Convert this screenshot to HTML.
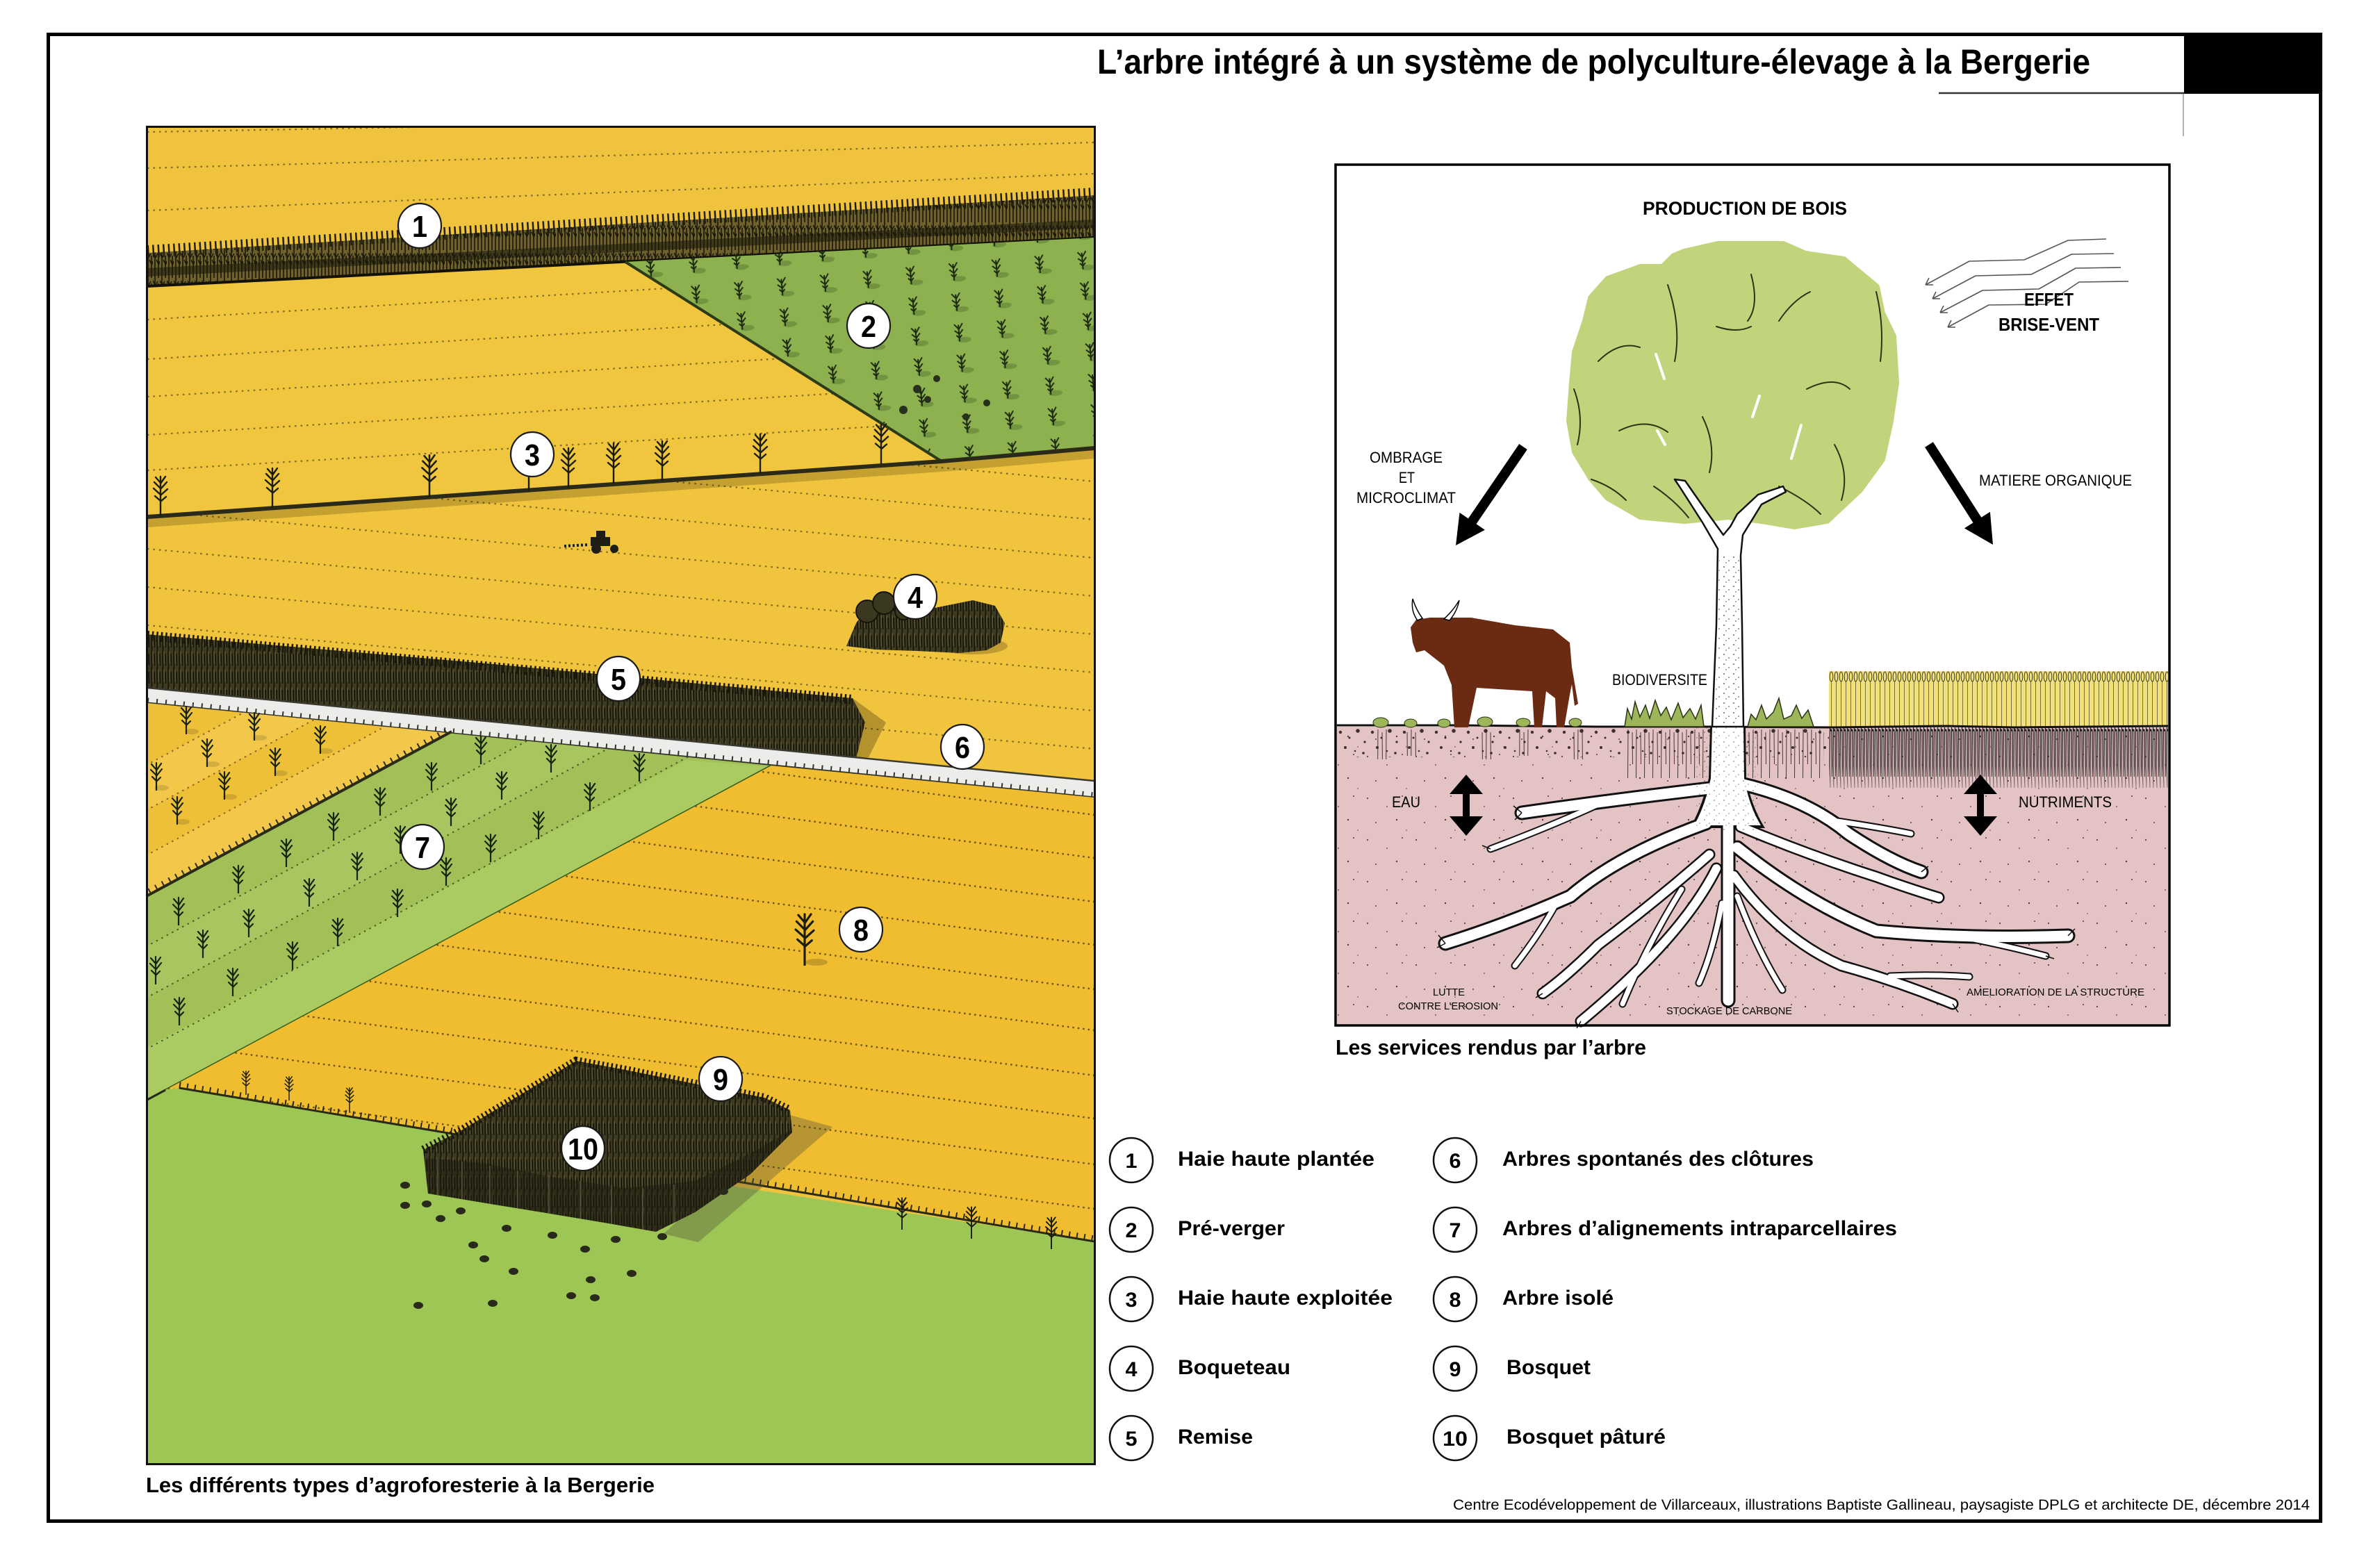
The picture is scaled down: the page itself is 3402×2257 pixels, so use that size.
<!DOCTYPE html>
<html><head><meta charset="utf-8"><title>L’arbre intégré à un système de polyculture-élevage à la Bergerie</title>
<style>html,body{margin:0;padding:0;background:#fff}svg{display:block}</style></head>
<body>
<svg xmlns="http://www.w3.org/2000/svg" width="3402" height="2257" viewBox="0 0 3402 2257" font-family="'Liberation Sans', sans-serif">
<defs>
  <symbol id="tr" viewBox="0 0 24 44"><path d="M12 44 L12 4 M12 14 L5 6 M12 15 L19 5 M12 22 L4 14 M12 23 L20 13 M12 30 L6 24 M12 31 L18 25" fill="none" stroke="#17230d" stroke-width="2.2" stroke-linecap="round"/></symbol>
  <symbol id="tb" viewBox="0 0 30 60"><path d="M15 60 L15 3 M15 12 L8 4 M15 13 L22 3 M15 20 L6 11 M15 21 L24 11 M15 29 L5 20 M15 30 L25 21 M15 38 L7 31 M15 39 L23 32" fill="none" stroke="#1a1c0c" stroke-width="2.4" stroke-linecap="round"/></symbol>
  <pattern id="pRem" width="8" height="26" patternUnits="userSpaceOnUse"><rect width="8" height="26" fill="#3f3b20"/><path d="M2 0 L2.5 26 M6 5 L6.5 22" stroke="#121208" stroke-width="1.6"/><path d="M4 2 L4.3 20" stroke="#6d6538" stroke-width="0.9"/></pattern>
  <pattern id="pHedge" width="10" height="40" patternUnits="userSpaceOnUse"><rect width="10" height="40" fill="#6e612b"/><path d="M3 0 L3 40 M3 10 L0 4 M3 12 L7 5 M8 8 L8 40 M8 20 L5 14 M8 22 L10 16" stroke="#1a180c" stroke-width="1.6"/></pattern>
  <pattern id="pOrch" width="62" height="44" patternUnits="userSpaceOnUse" patternTransform="rotate(-5)"><ellipse cx="38" cy="36" rx="10" ry="4" fill="#3e5a22" opacity=".35"/><path d="M31 38 L31 14 M31 20 L25 13 M31 21 L37 12 M31 27 L25 22 M31 28 L37 21 M31 33 L27 29 M31 33 L35 29" stroke="#1c2a10" stroke-width="2" fill="none"/></pattern>
  <pattern id="pWheat" width="7" height="82" patternUnits="userSpaceOnUse" x="2632" y="965"><path d="M3.5 16 L3.5 82" stroke="#77703e" stroke-width="1"/><ellipse cx="3.5" cy="9" rx="2.3" ry="7" fill="none" stroke="#3a3a2a" stroke-width="1"/></pattern>
  <pattern id="pWroots" width="5" height="95" patternUnits="userSpaceOnUse" x="2632" y="1046"><path d="M1.5 0 L1 55 L2 88 M4 6 L4.3 72" stroke="#1d1a1a" stroke-width="1.25" fill="none"/><circle cx="3" cy="5" r="1.6" fill="#1d1a1a"/></pattern>
  <pattern id="pSoil" width="46" height="40" patternUnits="userSpaceOnUse" x="1924" y="1048"><g fill="#1e1616"><circle cx="5" cy="6" r="2.2"/><circle cx="18" cy="14" r="1.5"/><circle cx="30" cy="4" r="2.8"/><circle cx="40" cy="20" r="1.6"/><circle cx="12" cy="28" r="2"/><circle cx="26" cy="33" r="1.3"/><circle cx="38" cy="36" r="1.8"/></g></pattern>
  <pattern id="pSpeck" width="70" height="60" patternUnits="userSpaceOnUse"><g fill="#5a3c40"><circle cx="8" cy="9" r="1.1"/><circle cx="36" cy="21" r="0.9"/><circle cx="58" cy="6" r="1"/><circle cx="20" cy="44" r="1"/><circle cx="50" cy="40" r="1.2"/><circle cx="64" cy="55" r="0.8"/></g></pattern>
  <pattern id="pDots" width="14" height="14" patternUnits="userSpaceOnUse"><g fill="#333"><circle cx="3" cy="4" r="0.9"/><circle cx="10" cy="9" r="0.8"/><circle cx="6" cy="12" r="0.7"/></g></pattern>
  <pattern id="pGroots" width="12" height="75" patternUnits="userSpaceOnUse"><path d="M3 0 L2.5 70 M9 4 L9.5 50" stroke="#2a2020" stroke-width="1" fill="none"/></pattern>
  <linearGradient id="gFade" x1="0" y1="0" x2="0" y2="1"><stop offset="0" stop-color="#fff"/><stop offset=".6" stop-color="#fff" stop-opacity=".9"/><stop offset="1" stop-color="#fff" stop-opacity=".25"/></linearGradient>
  <mask id="mFade" maskUnits="userSpaceOnUse" x="2632" y="1046" width="488" height="95"><rect x="2632" y="1046" width="488" height="95" fill="url(#gFade)"/></mask>
  <clipPath id="clipL"><rect x="212" y="183" width="1363" height="1924"/></clipPath>
  <clipPath id="clipBet"><polygon points="212,412 1575,342 1575,645 1355,664 212,744"/></clipPath>
  <clipPath id="clipMid"><polygon points="212,744 1355,664 1575,645 1575,1125 212,990"/></clipPath>
  <clipPath id="clipA"><polygon points="212,1012 643,1055 212,1291"/></clipPath>
  <clipPath id="clipB"><polygon points="643,1055 1110,1102 212,1583 212,1291"/></clipPath>
  <clipPath id="clipC"><polygon points="1110,1102 1575,1148 1575,1787 258,1566 238,1569"/></clipPath>
  <clipPath id="clipBos"><polygon points="609,1655 664,1627 747,1577 829,1527 900,1540 1000,1560 1100,1580 1137,1598 1140,1630 1080,1690 1000,1745 944,1773 870,1760 780,1745 700,1732 616,1718"/></clipPath>
  <path id="r1" d="M2460 1135 Q2330 1150 2190 1170"/>
  <path id="r1b" d="M2300 1158 Q2230 1190 2145 1222"/>
  <path id="r2" d="M2455 1185 Q2330 1230 2260 1290 Q2170 1330 2080 1358"/>
  <path id="r2b" d="M2240 1300 Q2215 1345 2180 1390"/>
  <path id="r3" d="M2460 1230 Q2380 1300 2300 1360 Q2255 1405 2220 1430"/>
  <path id="r4" d="M2470 1250 Q2420 1350 2275 1470"/>
  <path id="r5" d="M2487 1150 L2487 1440"/>
  <path id="r5b" d="M2478 1300 Q2465 1370 2445 1415"/>
  <path id="r6" d="M2505 1128 Q2600 1150 2660 1200 Q2720 1240 2765 1255"/>
  <path id="r6b" d="M2630 1180 Q2700 1190 2750 1200"/>
  <path id="r7" d="M2505 1190 Q2600 1230 2700 1262 Q2750 1280 2790 1292"/>
  <path id="r8" d="M2500 1220 Q2600 1300 2700 1340 Q2830 1352 2976 1347"/>
  <path id="r8b" d="M2840 1352 Q2890 1362 2944 1376"/>
  <path id="r9" d="M2495 1260 Q2560 1350 2650 1390 Q2730 1412 2810 1445"/>
  <path id="r9b" d="M2720 1405 Q2780 1402 2834 1406"/>
  <path id="r10" d="M2500 1290 Q2530 1370 2565 1425"/>
  <path id="r11" d="M2420 1280 Q2370 1360 2335 1445"/>
</defs>

<rect width="3402" height="2257" fill="#fff"/>

<!-- outer frame & header -->
<rect x="69.5" y="49.5" width="3270" height="2140" fill="none" stroke="#000" stroke-width="5"/>
<rect x="3143" y="47" width="199" height="88" fill="#000"/>
<line x1="2790" y1="134" x2="3143" y2="134" stroke="#333" stroke-width="2.5"/>
<line x1="3142" y1="135" x2="3142" y2="196" stroke="#999" stroke-width="1.5"/>
<text x="1579" y="106" font-size="50" font-weight="bold" textLength="1429" lengthAdjust="spacingAndGlyphs">L’arbre intégré à un système de polyculture-élevage à la Bergerie</text>

<!-- ================= LEFT ILLUSTRATION ================= -->
<g clip-path="url(#clipL)">
  <rect x="212" y="183" width="1363" height="1924" fill="#efc33e"/>
  <g stroke="#5a4a1a" stroke-width="2.2" stroke-dasharray="2.5 6" opacity=".75" fill="none">
    <line x1="212" y1="190" x2="1575" y2="165"/>
    <line x1="212" y1="242" x2="1575" y2="205"/>
    <line x1="212" y1="303" x2="1575" y2="250"/>
  </g>
  <polygon points="212,412 1575,342 1575,645 1355,664 212,744" fill="#f1c63f"/>
  <g clip-path="url(#clipBet)" stroke="#5a4a1a" stroke-width="2.2" stroke-dasharray="2.5 6" opacity=".75" fill="none">
    <line x1="212" y1="460" x2="1575" y2="378"/>
    <line x1="212" y1="517" x2="1575" y2="435"/>
    <line x1="212" y1="571" x2="1575" y2="489"/>
    <line x1="212" y1="626" x2="1575" y2="544"/>
    <line x1="212" y1="677" x2="1575" y2="595"/>
  </g>
  <polygon points="212,744 1355,664 1575,645 1575,1125 212,990" fill="#f0c43c"/>
  <g clip-path="url(#clipMid)" stroke="#5a4a1a" stroke-width="2.2" stroke-dasharray="2.5 6" opacity=".75" fill="none">
    <line x1="212" y1="570" x2="1575" y2="693"/>
    <line x1="212" y1="625" x2="1575" y2="748"/>
    <line x1="212" y1="680" x2="1575" y2="803"/>
    <line x1="212" y1="735" x2="1575" y2="858"/>
    <line x1="212" y1="790" x2="1575" y2="913"/>
    <line x1="212" y1="845" x2="1575" y2="968"/>
    <line x1="212" y1="900" x2="1575" y2="1023"/>
    <line x1="212" y1="955" x2="1575" y2="1078"/>
  </g>
  <!-- hedge 1 -->
  <polygon points="212,364 1575,281 1575,342 212,412" fill="url(#pHedge)"/>
  <line x1="212" y1="362" x2="1575" y2="279" stroke="#221f10" stroke-width="18" stroke-dasharray="2.5 5"/>
  <line x1="212" y1="392" x2="1575" y2="322" stroke="#1a180c" stroke-width="12" opacity=".55"/>
  <line x1="212" y1="412" x2="1575" y2="342" stroke="#141208" stroke-width="4"/>
  <!-- orchard -->
  <polygon points="900,377 1575,342 1575,645 1355,664" fill="#8db14f"/>
  <polygon points="900,377 1575,342 1575,645 1355,664" fill="url(#pOrch)"/>
  <g fill="#26301a"><circle cx="1320" cy="560" r="6"/><circle cx="1335" cy="575" r="5"/><circle cx="1300" cy="590" r="6"/><circle cx="1348" cy="545" r="5"/><circle cx="1390" cy="600" r="5"/><circle cx="1420" cy="580" r="5"/></g>
  <line x1="900" y1="377" x2="1355" y2="664" stroke="#2d3a18" stroke-width="4"/>
  <!-- hedge 3 -->
  <polyline points="212,752 1355,672 1575,653" fill="none" stroke="#000" stroke-width="14" opacity=".18"/>
  <polyline points="212,744 1355,664 1575,645" fill="none" stroke="#2b2a18" stroke-width="6"/>
  <use href="#tb" x="216" y="683" width="30" height="60"/>
  <use href="#tb" x="377" y="671" width="30" height="60"/>
  <use href="#tb" x="600" y="652" width="36" height="64"/>
  <use href="#tb" x="746" y="646" width="30" height="60"/>
  <use href="#tb" x="803" y="642" width="30" height="60"/>
  <use href="#tb" x="868" y="633" width="30" height="64"/>
  <use href="#tb" x="938" y="632" width="30" height="60"/>
  <use href="#tb" x="1079" y="622" width="30" height="60"/>
  <use href="#tb" x="1253" y="605" width="30" height="65"/>
  <!-- tractor -->
  <g fill="#1e1e14"><rect x="850" y="773" width="28" height="13"/><rect x="858" y="764" width="13" height="10"/><circle cx="858" cy="790" r="7"/><circle cx="884" cy="790" r="6"/></g>
  <line x1="812" y1="786" x2="848" y2="784" stroke="#1e1e14" stroke-width="4" stroke-dasharray="3 3"/>
  <!-- boqueteau 4 -->
  <ellipse cx="1400" cy="930" rx="50" ry="12" fill="#000" opacity=".2"/>
  <polygon points="1218,930 1232,897 1250,872 1275,858 1300,866 1320,880 1360,872 1400,864 1432,872 1446,897 1440,925 1420,936 1380,940 1320,937 1260,935" fill="url(#pRem)"/>
  <g fill="#3b3820" stroke="#15140a" stroke-width="2"><circle cx="1248" cy="880" r="16"/><circle cx="1272" cy="868" r="16"/><circle cx="1300" cy="880" r="12"/></g>
  <!-- remise 5 -->
  <polygon points="212,913 700,955 1227,1005 1245,1040 1232,1092 212,990" fill="url(#pRem)"/>
  <line x1="212" y1="915" x2="1227" y2="1007" stroke="#1a180c" stroke-width="14" stroke-dasharray="2.5 4"/>
  <polygon points="1227,1005 1275,1040 1250,1090 1232,1092 1245,1040" fill="#000" opacity=".25"/>
  <!-- road -->
  <polygon points="212,990 1575,1124 1575,1148 212,1012" fill="#ececea"/>
  <line x1="212" y1="990" x2="1575" y2="1124" stroke="#3a3a30" stroke-width="2.5"/>
  <line x1="212" y1="1012" x2="1575" y2="1148" stroke="#333328" stroke-width="3"/>
  <line x1="212" y1="1009" x2="1575" y2="1145" stroke="#333328" stroke-width="9" stroke-dasharray="2 11"/>
  <!-- region A -->
  <polygon points="212,1012 643,1055 212,1291" fill="#eec038"/>
  <g clip-path="url(#clipA)">
    <line x1="100" y1="1193" x2="1300" y2="545" stroke="#f3c84a" stroke-width="57"/>
    <line x1="100" y1="1323" x2="1300" y2="675" stroke="#f3c84a" stroke-width="57"/>
    <g stroke="#5a4a1a" stroke-width="2" stroke-dasharray="2.5 6" opacity=".75">
      <line x1="150" y1="1134" x2="1200" y2="567"/>
      <line x1="150" y1="1199" x2="1200" y2="632"/>
      <line x1="150" y1="1264" x2="1200" y2="697"/>
    </g>
  </g>
  <!-- region B -->
  <polygon points="643,1055 1110,1102 212,1583 212,1291" fill="#a1c058"/>
  <g clip-path="url(#clipB)">
    <line x1="100" y1="1459" x2="1300" y2="811" stroke="#a8c660" stroke-width="65"/>
    <polygon points="987,1094 1110,1104 212,1583 212,1507" fill="#aacb62"/>
    <g stroke="#2f4418" stroke-width="2" stroke-dasharray="2.5 6" opacity=".8">
      <line x1="150" y1="1395" x2="1200" y2="828"/>
      <line x1="150" y1="1469" x2="1200" y2="902"/>
      <line x1="150" y1="1543" x2="1200" y2="976"/>
    </g>
  </g>
  <line x1="1110" y1="1102" x2="212" y2="1583" stroke="#2f5a1c" stroke-width="3"/>
  <line x1="205" y1="1293" x2="650" y2="1053" stroke="#2a2a18" stroke-width="4"/>
  <line x1="205" y1="1289" x2="650" y2="1049" stroke="#2a2a18" stroke-width="10" stroke-dasharray="2 9"/>
  <g fill="#000" opacity=".13">
    <ellipse cx="276" cy="1053" rx="10" ry="4"/><ellipse cx="374" cy="1062" rx="10" ry="4"/><ellipse cx="469" cy="1081" rx="10" ry="4"/><ellipse cx="306" cy="1100" rx="10" ry="4"/><ellipse cx="404" cy="1113" rx="10" ry="4"/><ellipse cx="233" cy="1134" rx="10" ry="4"/><ellipse cx="331" cy="1147" rx="10" ry="4"/><ellipse cx="263" cy="1183" rx="10" ry="4"/>
  </g>
  <g>
    <use href="#tr" x="256" y="1013" width="24" height="44"/><use href="#tr" x="354" y="1022" width="24" height="44"/><use href="#tr" x="449" y="1041" width="24" height="44"/><use href="#tr" x="286" y="1060" width="24" height="44"/><use href="#tr" x="384" y="1073" width="24" height="44"/><use href="#tr" x="213" y="1094" width="24" height="44"/><use href="#tr" x="311" y="1107" width="24" height="44"/><use href="#tr" x="243" y="1143" width="24" height="44"/>
  </g>
  <g>
    <use href="#tr" x="680" y="1056" width="24" height="44"/><use href="#tr" x="781" y="1068" width="24" height="44"/><use href="#tr" x="908" y="1081" width="24" height="44"/>
    <use href="#tr" x="609" y="1094" width="24" height="44"/><use href="#tr" x="710" y="1107" width="24" height="44"/><use href="#tr" x="837" y="1123" width="24" height="44"/>
    <use href="#tr" x="535" y="1130" width="24" height="44"/><use href="#tr" x="637" y="1145" width="24" height="44"/><use href="#tr" x="763" y="1164" width="24" height="44"/>
    <use href="#tr" x="468" y="1166" width="24" height="44"/><use href="#tr" x="564" y="1185" width="24" height="44"/><use href="#tr" x="694" y="1197" width="24" height="44"/>
    <use href="#tr" x="400" y="1204" width="24" height="44"/><use href="#tr" x="502" y="1223" width="24" height="44"/><use href="#tr" x="630" y="1231" width="24" height="44"/>
    <use href="#tr" x="331" y="1242" width="24" height="44"/><use href="#tr" x="433" y="1261" width="24" height="44"/><use href="#tr" x="560" y="1276" width="24" height="44"/>
    <use href="#tr" x="245" y="1288" width="24" height="44"/><use href="#tr" x="346" y="1305" width="24" height="44"/><use href="#tr" x="474" y="1318" width="24" height="44"/>
    <use href="#tr" x="280" y="1335" width="24" height="44"/><use href="#tr" x="409" y="1352" width="24" height="44"/>
    <use href="#tr" x="212" y="1373" width="24" height="44"/><use href="#tr" x="323" y="1390" width="24" height="44"/><use href="#tr" x="246" y="1432" width="24" height="44"/>
  </g>
  <!-- region C -->
  <polygon points="1110,1102 1575,1148 1575,1787 258,1566 238,1569" fill="#f1bd30"/>
  <g clip-path="url(#clipC)" stroke="#4a3a12" stroke-width="2.4" stroke-dasharray="2.5 5" opacity=".8">
    <line x1="212" y1="996" x2="1575" y2="1173"/>
    <line x1="212" y1="1058" x2="1575" y2="1235"/>
    <line x1="212" y1="1121" x2="1575" y2="1298"/>
    <line x1="212" y1="1183" x2="1575" y2="1360"/>
    <line x1="212" y1="1247" x2="1575" y2="1424"/>
    <line x1="212" y1="1306" x2="1575" y2="1483"/>
    <line x1="212" y1="1371" x2="1575" y2="1548"/>
    <line x1="212" y1="1433" x2="1575" y2="1610"/>
    <line x1="212" y1="1499" x2="1575" y2="1676"/>
    <line x1="212" y1="1563" x2="1575" y2="1740"/>
  </g>
  <!-- pasture -->
  <polygon points="212,1583 238,1569 258,1566 655,1634 1045,1706 1575,1787 1575,2107 212,2107" fill="#9ec655"/>
  <line x1="258" y1="1566" x2="1575" y2="1787" stroke="#2a2a18" stroke-width="3"/>
  <line x1="258" y1="1562" x2="1575" y2="1783" stroke="#2a2a18" stroke-width="9" stroke-dasharray="2 9"/>
  <line x1="238" y1="1569" x2="212" y2="1583" stroke="#2a2a18" stroke-width="3"/>
  <use href="#tb" x="1285" y="1722" width="26" height="48"/>
  <use href="#tb" x="1385" y="1735" width="26" height="48"/>
  <use href="#tb" x="1500" y="1750" width="26" height="48"/>
  <use href="#tb" x="344" y="1540" width="20" height="36"/>
  <use href="#tb" x="406" y="1548" width="20" height="36"/>
  <use href="#tb" x="493" y="1564" width="20" height="36"/>
  <!-- bosquet -->
  <polygon points="1137,1605 1198,1622 1005,1788 955,1776" fill="#4a4a3a" opacity=".35"/>
  <polygon points="609,1655 664,1627 747,1577 829,1527 900,1540 1000,1560 1100,1580 1137,1598 1140,1630 1080,1690 1000,1745 944,1773 870,1760 780,1745 700,1732 616,1718" fill="url(#pRem)"/>
  <polyline points="609,1655 664,1627 747,1577 829,1527 900,1540 1000,1560 1100,1580 1137,1598" fill="none" stroke="#1a180c" stroke-width="12" stroke-dasharray="2.5 4"/>
  <g clip-path="url(#clipBos)">
    <polygon points="600,1665 700,1675 800,1695 900,1710 1000,1700 1080,1660 1150,1620 1150,1800 600,1800" fill="#1d1c10" opacity=".5"/>
    <g stroke="#8a8460" stroke-width="1.3" opacity=".6">
      <line x1="630" y1="1668" x2="630" y2="1720"/><line x1="665" y1="1672" x2="665" y2="1726"/><line x1="705" y1="1678" x2="705" y2="1733"/><line x1="745" y1="1685" x2="745" y2="1740"/><line x1="790" y1="1692" x2="790" y2="1748"/><line x1="835" y1="1700" x2="835" y2="1755"/><line x1="880" y1="1706" x2="880" y2="1762"/><line x1="925" y1="1710" x2="925" y2="1770"/><line x1="970" y1="1705" x2="970" y2="1760"/>
    </g>
  </g>
  <g fill="#2a2a1c">
    <ellipse cx="583" cy="1706" rx="7" ry="5"/><ellipse cx="583" cy="1735" rx="7" ry="5"/><ellipse cx="614" cy="1733" rx="7" ry="5"/><ellipse cx="663" cy="1743" rx="7" ry="5"/><ellipse cx="634" cy="1754" rx="7" ry="5"/><ellipse cx="681" cy="1792" rx="7" ry="5"/><ellipse cx="697" cy="1812" rx="7" ry="5"/><ellipse cx="729" cy="1768" rx="7" ry="5"/><ellipse cx="739" cy="1830" rx="7" ry="5"/><ellipse cx="795" cy="1778" rx="7" ry="5"/><ellipse cx="842" cy="1798" rx="7" ry="5"/><ellipse cx="886" cy="1784" rx="7" ry="5"/><ellipse cx="909" cy="1833" rx="7" ry="5"/><ellipse cx="850" cy="1842" rx="7" ry="5"/><ellipse cx="822" cy="1865" rx="7" ry="5"/><ellipse cx="856" cy="1868" rx="7" ry="5"/><ellipse cx="709" cy="1876" rx="7" ry="5"/><ellipse cx="602" cy="1879" rx="7" ry="5"/><ellipse cx="953" cy="1780" rx="7" ry="5"/><ellipse cx="1041" cy="1715" rx="7" ry="5"/>
  </g>
  <ellipse cx="1175" cy="1385" rx="16" ry="5" fill="#000" opacity=".18"/>
  <use href="#tb" x="1136" y="1312" width="44" height="78"/>
  <g fill="#fff" stroke="#1a1a1a" stroke-width="2.2">
    <ellipse cx="604" cy="325" rx="31" ry="32"/><ellipse cx="1250" cy="469" rx="31" ry="32"/><ellipse cx="766" cy="654" rx="31" ry="32"/><ellipse cx="1317" cy="859" rx="31" ry="32"/><ellipse cx="890" cy="977" rx="31" ry="32"/><ellipse cx="1385" cy="1075" rx="31" ry="32"/><ellipse cx="608" cy="1219" rx="31" ry="32"/><ellipse cx="1239" cy="1338" rx="31" ry="32"/><ellipse cx="1037" cy="1553" rx="31" ry="32"/><ellipse cx="839" cy="1653" rx="31" ry="32"/>
  </g>
  <g font-size="44" font-weight="bold" fill="#000" text-anchor="middle">
    <text x="604" y="341" textLength="22" lengthAdjust="spacingAndGlyphs">1</text>
    <text x="1250" y="485" textLength="22" lengthAdjust="spacingAndGlyphs">2</text>
    <text x="766" y="670" textLength="22" lengthAdjust="spacingAndGlyphs">3</text>
    <text x="1317" y="875" textLength="22" lengthAdjust="spacingAndGlyphs">4</text>
    <text x="890" y="993" textLength="22" lengthAdjust="spacingAndGlyphs">5</text>
    <text x="1385" y="1091" textLength="22" lengthAdjust="spacingAndGlyphs">6</text>
    <text x="608" y="1235" textLength="22" lengthAdjust="spacingAndGlyphs">7</text>
    <text x="1239" y="1354" textLength="22" lengthAdjust="spacingAndGlyphs">8</text>
    <text x="1037" y="1569" textLength="22" lengthAdjust="spacingAndGlyphs">9</text>
    <text x="839" y="1669" textLength="44" lengthAdjust="spacingAndGlyphs">10</text>
  </g>
</g>
<rect x="211.5" y="182.5" width="1364" height="1925" fill="none" stroke="#111" stroke-width="3"/>
<text x="210" y="2148" font-size="31" font-weight="bold" textLength="732" lengthAdjust="spacingAndGlyphs">Les différents types d’agroforesterie à la Bergerie</text>

<!-- ================= RIGHT DIAGRAM ================= -->
<rect x="1922" y="237" width="1200" height="1239" fill="#fff"/>
<rect x="1924" y="1046" width="1196" height="428" fill="#e4c3c5"/>
<rect x="1924" y="1046" width="1196" height="428" fill="url(#pSpeck)"/>
<rect x="1924" y="1048" width="708" height="42" fill="url(#pSoil)" opacity=".85"/>
<rect x="2632" y="1046" width="488" height="95" fill="url(#pWroots)" mask="url(#mFade)"/>
<g fill="url(#pGroots)" opacity=".85">
  <rect x="1978" y="1048" width="20" height="45"/><rect x="2020" y="1048" width="20" height="40"/><rect x="2130" y="1048" width="18" height="45"/><rect x="2185" y="1048" width="18" height="40"/><rect x="2260" y="1048" width="18" height="45"/>
  <rect x="2338" y="1048" width="114" height="72"/><rect x="2515" y="1048" width="110" height="72"/>
</g>
<rect x="2632" y="966" width="488" height="81" fill="#f2e07a"/>
<rect x="2632" y="966" width="488" height="81" fill="url(#pWheat)"/>
<path d="M1924 1044 L2100 1044 L2300 1046 L2460 1046 L2640 1047 L2800 1045 L2900 1047 L3120 1045" fill="none" stroke="#111" stroke-width="3"/>
<!-- cow -->
<path d="M2030 903 L2038 892 L2058 889 L2089 889 L2117 889 L2180 900 L2235 906 L2259 925 L2262 960 L2271 1013 L2266 1016 L2262 985 L2259 1000 L2251 1047 L2240 1047 L2238 1005 L2225 995 L2219 1047 L2208 1047 L2205 995 L2125 990 L2113 1047 L2100 1047 L2093 1047 L2089 986 L2078 958 L2050 936 L2038 939 L2033 925 Z" fill="#6b2a12"/>
<path d="M2040 893 Q2030 880 2033 862 Q2038 878 2047 890 Z" fill="#fff" stroke="#000" stroke-width="1.5"/>
<path d="M2078 891 Q2092 878 2100 864 Q2097 880 2086 893 Z" fill="#fff" stroke="#000" stroke-width="1.5"/>
<g fill="#9cb659" stroke="#2a3312" stroke-width="1"><ellipse cx="1987" cy="1040" rx="11" ry="7"/><ellipse cx="2030" cy="1041" rx="9" ry="6"/><ellipse cx="2078" cy="1041" rx="9" ry="6"/><ellipse cx="2137" cy="1039" rx="11" ry="7"/><ellipse cx="2192" cy="1040" rx="10" ry="6"/><ellipse cx="2267" cy="1040" rx="9" ry="6"/></g>
<path d="M2338 1046 L2342 1020 L2348 1035 L2353 1010 L2360 1032 L2368 1015 L2374 1034 L2382 1008 L2390 1030 L2398 1018 L2405 1036 L2415 1012 L2422 1033 L2432 1020 L2440 1035 L2448 1015 L2452 1046 Z" fill="#9cb659" stroke="#2a3312" stroke-width="1.5"/>
<path d="M2515 1046 L2520 1028 L2527 1036 L2535 1015 L2542 1035 L2552 1025 L2560 1005 L2567 1035 L2578 1030 L2585 1015 L2593 1034 L2602 1022 L2610 1046 Z" fill="#9cb659" stroke="#2a3312" stroke-width="1.5"/>
<!-- roots -->
<g fill="none" stroke="#111" stroke-linecap="round">
  <g stroke-width="21"><use href="#r1"/><use href="#r2"/><use href="#r5"/><use href="#r6"/><use href="#r8"/></g>
  <g stroke-width="17"><use href="#r3"/><use href="#r4"/><use href="#r7"/><use href="#r9"/></g>
  <g stroke-width="11"><use href="#r1b"/><use href="#r2b"/><use href="#r5b"/><use href="#r6b"/><use href="#r8b"/><use href="#r9b"/><use href="#r10"/><use href="#r11"/></g>
</g>
<path d="M2461 1046 L2459 1120 Q2450 1160 2432 1192 L2540 1192 Q2520 1160 2513 1120 L2512 1046 Z" fill="#111"/>
<g fill="none" stroke="#fff" stroke-linecap="round">
  <g stroke-width="15"><use href="#r1"/><use href="#r2"/><use href="#r5"/><use href="#r6"/><use href="#r8"/></g>
  <g stroke-width="12"><use href="#r3"/><use href="#r4"/><use href="#r7"/><use href="#r9"/></g>
  <g stroke-width="7"><use href="#r1b"/><use href="#r2b"/><use href="#r5b"/><use href="#r6b"/><use href="#r8b"/><use href="#r9b"/><use href="#r10"/><use href="#r11"/></g>
</g>
<path d="M2464 1046 L2462 1120 Q2454 1160 2438 1188 L2534 1188 Q2517 1160 2510 1120 L2509 1046 Z" fill="#fff"/>
<rect x="2440" y="1046" width="90" height="150" fill="url(#pDots)" opacity=".6"/>
<g stroke="#111" stroke-width="1.5" fill="none">
  <path d="M2190 1170 l-12 -10 M2190 1170 l-10 10 M2145 1222 l-12 -5 M2080 1358 l-10 -12 M2080 1358 l-12 6 M2976 1347 l10 -10 M2944 1376 l12 4 M2810 1445 l8 12 M2765 1255 l10 -8 M2275 1470 l-6 10 M2220 1430 l-10 6"/>
</g>
<!-- canopy -->
<polygon points="2424,363 2472,352 2566,352 2598,366 2653,374 2700,413 2708,451 2724,484 2728,551 2720,606 2708,661 2676,705 2629,749 2582,757 2535,749 2487,743 2424,749 2361,743 2314,716 2290,688 2267,650 2259,606 2263,551 2267,507 2282,462 2290,429 2314,402 2361,385 2393,385 2409,369" fill="#c2d47b" stroke="#c2d47b" stroke-width="10" stroke-linejoin="round"/>
<g fill="none" stroke="#2a3312" stroke-width="2" stroke-linecap="round">
  <path d="M2300 520 Q2330 490 2360 500"/><path d="M2400 410 Q2420 470 2410 520"/><path d="M2520 395 Q2532 440 2515 462"/><path d="M2560 462 Q2580 432 2605 420"/><path d="M2600 560 Q2640 540 2662 560"/><path d="M2330 620 Q2370 600 2400 622"/><path d="M2450 600 Q2470 640 2460 680"/><path d="M2640 640 Q2662 680 2650 720"/><path d="M2290 690 Q2320 700 2340 720"/><path d="M2700 420 Q2712 470 2706 520"/><path d="M2265 560 Q2280 600 2270 640"/><path d="M2470 470 Q2500 480 2520 470"/><path d="M2560 700 Q2600 720 2620 740"/><path d="M2380 700 Q2410 720 2430 745"/>
</g>
<g fill="none" stroke="#fff" stroke-width="4" stroke-linecap="round">
  <path d="M2383 510 L2395 545"/><path d="M2532 570 L2522 600"/><path d="M2592 612 L2578 660"/><path d="M2385 620 L2396 640"/>
</g>
<!-- trunk -->
<path d="M2464 1046 L2470 900 L2472 790 L2450 752 L2418 702 L2410 690 L2425 692 L2455 735 L2480 770 L2490 758 L2500 740 L2530 712 L2566 700 L2570 708 L2535 726 L2508 770 L2505 800 L2507 900 L2509 1046 Z" fill="#fff" stroke="#111" stroke-width="2.5" stroke-linejoin="round"/>
<path d="M2468 1044 L2472 900 L2474 800 L2505 800 L2505 900 L2507 1044 Z" fill="url(#pDots)"/>
<!-- diagonal arrows -->
<polygon points="2197.8,647 2124.5,754.2 2136.9,762.7 2095,785 2100.5,737.9 2112.9,746.4 2186.2,639" fill="#000"/>
<polygon points="2781.9,636.2 2851.3,744.8 2863.9,736.8 2868,784 2826.9,760.4 2839.5,752.4 2770.1,643.8" fill="#000"/>
<!-- double arrows -->
<polygon points="2110,1115 2134,1143 2115,1143 2115,1175 2134,1175 2110,1203 2086,1175 2105,1175 2105,1143 2086,1143" fill="#000"/>
<polygon points="2850,1115 2874,1143 2855,1143 2855,1175 2874,1175 2850,1203 2826,1175 2845,1175 2845,1143 2826,1143" fill="#000"/>
<!-- wind lines -->
<g fill="none" stroke="#555" stroke-width="1.6" stroke-linejoin="round">
  <polyline points="3031,344 2976,346 2913,374 2834,376 2771,410"/>
  <polyline points="3042,365 2981,366 2923,395 2843,397 2781,430"/>
  <polyline points="3052,385 2987,386 2934,416 2853,418 2792,450"/>
  <polyline points="3063,405 2992,406 2944,438 2862,439 2803,471"/>
  <path d="M2771 410 l5 -10 M2771 410 l11 0"/>
  <path d="M2781 430 l5 -10 M2781 430 l11 0"/>
  <path d="M2792 450 l5 -10 M2792 450 l11 0"/>
  <path d="M2803 471 l5 -10 M2803 471 l11 0"/>
</g>
<rect x="1922" y="237" width="1200" height="1239" fill="none" stroke="#000" stroke-width="3.5"/>
<g fill="#000">
  <text x="2364" y="309" font-size="27" font-weight="bold" textLength="294" lengthAdjust="spacingAndGlyphs">PRODUCTION DE BOIS</text>
  <text x="2913" y="440" font-size="26" font-weight="bold" textLength="71" lengthAdjust="spacingAndGlyphs">EFFET</text>
  <text x="2876" y="476" font-size="26" font-weight="bold" textLength="145" lengthAdjust="spacingAndGlyphs">BRISE-VENT</text>
  <text x="1971" y="666" font-size="22" textLength="105" lengthAdjust="spacingAndGlyphs">OMBRAGE</text>
  <text x="2013" y="695" font-size="22" textLength="23" lengthAdjust="spacingAndGlyphs">ET</text>
  <text x="1952" y="724" font-size="22" textLength="143" lengthAdjust="spacingAndGlyphs">MICROCLIMAT</text>
  <text x="2848" y="699" font-size="22" textLength="220" lengthAdjust="spacingAndGlyphs">MATIERE ORGANIQUE</text>
  <text x="2320" y="986" font-size="22" textLength="137" lengthAdjust="spacingAndGlyphs">BIODIVERSITE</text>
  <text x="2003" y="1162" font-size="22" textLength="41" lengthAdjust="spacingAndGlyphs">EAU</text>
  <text x="2905" y="1162" font-size="22" textLength="134" lengthAdjust="spacingAndGlyphs">NUTRIMENTS</text>
  <text x="2062" y="1433" font-size="15" textLength="46" lengthAdjust="spacingAndGlyphs">LUTTE</text>
  <text x="2012" y="1453" font-size="15" textLength="144" lengthAdjust="spacingAndGlyphs">CONTRE L’EROSION</text>
  <text x="2398" y="1460" font-size="15" textLength="181" lengthAdjust="spacingAndGlyphs">STOCKAGE DE CARBONE</text>
  <text x="2830" y="1433" font-size="15" textLength="256" lengthAdjust="spacingAndGlyphs">AMELIORATION DE LA STRUCTURE</text>
</g>
<text x="1922" y="1518" font-size="31" font-weight="bold" textLength="447" lengthAdjust="spacingAndGlyphs">Les services rendus par l’arbre</text>

<!-- ================= LEGEND ================= -->
<g fill="#fff" stroke="#111" stroke-width="2.5">
  <ellipse cx="1628" cy="1670" rx="31" ry="32"/><ellipse cx="1628" cy="1770" rx="31" ry="32"/><ellipse cx="1628" cy="1870" rx="31" ry="32"/><ellipse cx="1628" cy="1970" rx="31" ry="32"/><ellipse cx="1628" cy="2070" rx="31" ry="32"/>
  <ellipse cx="2094" cy="1670" rx="31" ry="32"/><ellipse cx="2094" cy="1770" rx="31" ry="32"/><ellipse cx="2094" cy="1870" rx="31" ry="32"/><ellipse cx="2094" cy="1970" rx="31" ry="32"/><ellipse cx="2094" cy="2070" rx="31" ry="32"/>
</g>
<g font-size="30" font-weight="bold" fill="#000" text-anchor="middle">
  <text x="1628" y="1681" textLength="17" lengthAdjust="spacingAndGlyphs">1</text>
  <text x="1628" y="1781" textLength="17" lengthAdjust="spacingAndGlyphs">2</text>
  <text x="1628" y="1881" textLength="17" lengthAdjust="spacingAndGlyphs">3</text>
  <text x="1628" y="1981" textLength="17" lengthAdjust="spacingAndGlyphs">4</text>
  <text x="1628" y="2081" textLength="17" lengthAdjust="spacingAndGlyphs">5</text>
  <text x="2094" y="1681" textLength="17" lengthAdjust="spacingAndGlyphs">6</text>
  <text x="2094" y="1781" textLength="17" lengthAdjust="spacingAndGlyphs">7</text>
  <text x="2094" y="1881" textLength="17" lengthAdjust="spacingAndGlyphs">8</text>
  <text x="2094" y="1981" textLength="17" lengthAdjust="spacingAndGlyphs">9</text>
  <text x="2094" y="2081" textLength="36" lengthAdjust="spacingAndGlyphs">10</text>
</g>
<g font-size="30" font-weight="bold" fill="#000">
  <text x="1695" y="1678" textLength="283" lengthAdjust="spacingAndGlyphs">Haie haute plantée</text>
  <text x="1695" y="1778" textLength="154" lengthAdjust="spacingAndGlyphs">Pré-verger</text>
  <text x="1695" y="1878" textLength="309" lengthAdjust="spacingAndGlyphs">Haie haute exploitée</text>
  <text x="1695" y="1978" textLength="162" lengthAdjust="spacingAndGlyphs">Boqueteau</text>
  <text x="1695" y="2078" textLength="108" lengthAdjust="spacingAndGlyphs">Remise</text>
  <text x="2162" y="1678" textLength="448" lengthAdjust="spacingAndGlyphs">Arbres spontanés des clôtures</text>
  <text x="2162" y="1778" textLength="568" lengthAdjust="spacingAndGlyphs">Arbres d’alignements intraparcellaires</text>
  <text x="2162" y="1878" textLength="160" lengthAdjust="spacingAndGlyphs">Arbre isolé</text>
  <text x="2168" y="1978" textLength="121" lengthAdjust="spacingAndGlyphs">Bosquet</text>
  <text x="2168" y="2078" textLength="229" lengthAdjust="spacingAndGlyphs">Bosquet pâturé</text>
</g>

<text x="2091" y="2173" font-size="21" fill="#000" textLength="1233" lengthAdjust="spacingAndGlyphs">Centre Ecodéveloppement de Villarceaux, illustrations Baptiste Gallineau, paysagiste DPLG et architecte DE, décembre 2014</text>
</svg>
</body></html>
